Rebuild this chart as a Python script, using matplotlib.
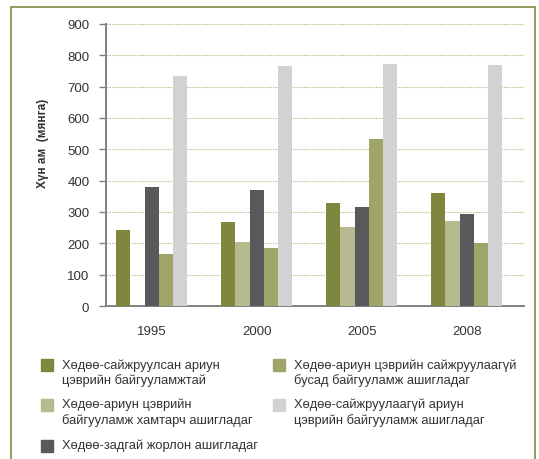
import matplotlib.pyplot as plt
import numpy as np
from matplotlib.patches import Rectangle

plt.rcParams['font.family'] = ['Liberation Sans', 'DejaVu Sans']

years = ['1995', '2000', '2005', '2008']
labels = [
    'Хөдөө-сайжруулсан ариун\nцэврийн байгууламжтай',
    'Хөдөө-ариун цэврийн\nбайгууламж хамтарч ашигладаг',
    'Хөдөө-задгай жорлон ашигладаг',
    'Хөдөө-ариун цэврийн сайжруулаагүй\nбусад байгууламж ашигладаг',
    'Хөдөө-сайжруулаагүй ариун\nцэврийн байгууламж ашигладаг',
]
improved = [243, 268, 329, 361]
shared = [0, 204, 252, 271]
open_pit = [379, 370, 316, 294]
other = [166, 185, 533, 201]
unimproved = [734, 766, 772, 769]
series = [improved, shared, open_pit, other, unimproved]
colors = ['#7e873d', '#b7b98e', '#58595b', '#9fa468', '#d1d2d4']

fig = plt.figure(figsize=(5.39, 4.6), dpi=100)
ax = fig.add_axes([106 / 539, 1 - 307 / 460, 418 / 539, 282 / 460])

x = np.arange(len(years))
w = 0.136
for i, (vals, c) in enumerate(zip(series, colors)):
    ax.bar(x + (i - 2) * w, vals, w, color=c, zorder=3)

ax.set_xlim(-0.435, 3.545)
ax.set_ylim(0, 900)
ax.set_yticks(range(0, 901, 100))
ax.set_xticks(x)
ax.set_xticklabels(years)
ax.yaxis.grid(True, color='#c3c897', linestyle=(0, (1.5, 1)), linewidth=0.8, zorder=0)
for s in ['top', 'right']:
    ax.spines[s].set_visible(False)
for s in ['left', 'bottom']:
    ax.spines[s].set_color('#808080')
    ax.spines[s].set_linewidth(1.4)
ax.tick_params(axis='y', length=5, width=1, color='#808080', labelsize=9.5,
               labelcolor='#333333', pad=7)
ax.tick_params(axis='x', length=0, labelsize=9.5, labelcolor='#333333', pad=14)
ax.set_ylabel('Хүн ам  (мянга)', fontsize=8.5, fontweight='bold', color='#333333')
ax.yaxis.set_label_coords(-0.136, 0.58)

# frame around the whole chart
fig.patches.append(Rectangle((11 / 539, -0.1), 524 / 539, 1.1 - 8 / 460,
                             transform=fig.transFigure, fill=False,
                             edgecolor='#8a9450', linewidth=1.3))

# legend, two columns
pos = [(41, 366), (41, 406), (41, 447), (273, 366), (273, 406)]
for (px, py), lab, c in zip(pos, labels, colors):
    fig.patches.append(Rectangle((px / 539, 1 - (py + 6) / 460), 12 / 539, 12 / 460,
                                 transform=fig.transFigure, color=c))
    fig.text((px + 21) / 539, 1 - (py - 7) / 460, lab, fontsize=9.3, color='#333333',
             va='top', ha='left', linespacing=1.3)

fig.savefig('out.png', dpi=100)
